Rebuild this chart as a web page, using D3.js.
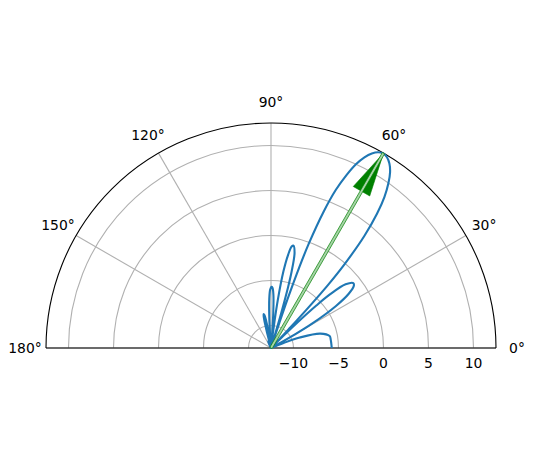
<!DOCTYPE html>
<html lang="en">
<head>
<meta charset="utf-8">
<title>Array pattern, polar</title>
<script src="https://cdn.jsdelivr.net/npm/d3@7"></script>
<style>
  body { margin: 0; background: #fff; }
  text { font-family: "DejaVu Sans", sans-serif; font-size: 13.9px; fill: #000; }
</style>
</head>
<body>
<script>

// radial limits and ticks
var rLim = [-12.5, 12.5];
var rTicks = [-10, -5, 0, 5, 10];
var thetaTicks = [0, 30, 60, 90, 120, 150, 180];

// pattern, [angle in degrees, level]
var lobe2a = [[0, -5.75], [8.1, -5.8], [11.5, -5.85], [16.3, -6.8], [20.0, -9.1], [21.6, -11.0], [22.5, -12.5]];
var lobe1a = [[28.6, -12.5], [29.0, -11.2], [29.5, -9.6], [30.7, -7.15], [32.9, -3.9], [34.9, -1.97],
              [36.9, -0.99], [38.3, -0.85], [40.5, -1.6], [42.3, -3.7], [43.1, -5.6], [43.95, -8.5],
              [44.4, -10.8], [44.6, -12.5]];
var mainLobe = [[46.4, -12.5], [46.5, -11.5], [46.8, -9.5], [47.2, -6.8], [47.9, -3.0], [48.7, -0.2],
                [50.2, 3.7], [51.7, 6.5], [53.1, 8.5], [54.55, 10.0], [55.9, 11.1], [57.3, 11.85],
                [58.7, 12.3], [60, 12.45], [61.3, 12.3], [62.6, 11.85], [63.9, 11.1], [65.2, 10.0],
                [66.4, 8.5], [67.7, 6.5], [68.9, 3.7], [70.1, -0.2], [70.7, -3.0], [71.3, -6.8],
                [71.6, -9.5], [71.9, -12.5]];
var lobe1b = [[73.3, -12.5], [73.4, -10.8], [73.7, -8.5], [74.3, -5.6], [74.9, -3.7], [76.1, -1.6],
              [77.6, -0.85], [78.5, -0.99], [79.6, -1.97], [80.8, -3.9], [81.95, -7.15], [82.5, -9.6],
              [82.8, -11.2], [83.0, -12.5]];
var lobe2b = [[85.2, -12.5], [85.6, -10.6], [86.3, -8.6], [87.4, -6.6], [88.6, -5.8], [89.6, -5.7],
              [90.8, -6.0], [92.0, -7.0], [93.1, -8.9], [93.8, -10.8], [94.3, -12.5]];
var lobe3b = [[98.0, -12.5], [98.2, -12.0], [99.0, -10.6], [100.0, -9.5], [101.2, -8.8], [102.4, -8.65],
              [103.4, -9.2], [104.3, -10.5], [104.8, -11.8], [105.1, -12.5]];
var lobe4b = [[111.5, -12.5], [112.5, -11.9], [113.6, -11.7], [114.8, -11.95],
              [115.8, -12.5], [180, -12.5]];

// arrow toward the main beam
var beamAngle = 60;

var w = 533, h = 470;
var cx = 271, cy = 348, R = 225;

var svg = d3.select("body").append("svg")
  .attr("width", w).attr("height", h);

var r = d3.scaleLinear().domain(rLim).range([0, R]).clamp(true);
var rad = function(deg) { return deg * Math.PI / 180; };

var g = svg.append("g").attr("transform", "translate(" + cx + "," + cy + ")");

//grid circles
g.selectAll(".rgrid")
  .data(rTicks)
  .enter().append("path")
  .attr("d", function(d) { return d3.arc()({startAngle: -Math.PI / 2, endAngle: Math.PI / 2, innerRadius: r(d), outerRadius: r(d)}); })
  .attr("fill", "none")
  .attr("stroke", "#b0b0b0")
  .attr("stroke-width", 1.1);

//grid spokes
g.selectAll(".tgrid")
  .data(thetaTicks)
  .enter().append("line")
  .attr("x1", 0).attr("y1", 0)
  .attr("x2", function(d) { return R * Math.cos(rad(d)); })
  .attr("y2", function(d) { return -R * Math.sin(rad(d)); })
  .attr("stroke", "#b0b0b0")
  .attr("stroke-width", 1.1);

//spines
g.append("path")
  .attr("d", d3.arc()({startAngle: -Math.PI / 2, endAngle: Math.PI / 2, innerRadius: R, outerRadius: R}))
  .attr("fill", "none").attr("stroke", "#000").attr("stroke-width", 1.1);
g.append("line")
  .attr("x1", -R).attr("x2", R).attr("y1", 0).attr("y2", 0)
  .attr("stroke", "#000").attr("stroke-width", 1.1);

//pattern
var pattern = [].concat(lobe2a, lobe1a, mainLobe, lobe1b, lobe2b, lobe3b, lobe4b);
var line = d3.lineRadial()
  .angle(function(d) { return Math.PI / 2 - rad(d[0]); })
  .radius(function(d) { return r(d[1]); })
  .curve(d3.curveCatmullRom.alpha(0.5));
g.append("path")
  .datum(pattern)
  .attr("d", line)
  .attr("fill", "none")
  .attr("stroke", "#1f77b4")
  .attr("stroke-width", 2.1)
  .attr("stroke-linejoin", "round");

//arrow
var ux = Math.cos(rad(beamAngle)), uy = -Math.sin(rad(beamAngle));
var tip = [r(rLim[1]) * ux, r(rLim[1]) * uy];
var headLen = 44, headW = 9.5, shaftW = 1.3;
var px = -uy, py = ux;
var base = [tip[0] - headLen * ux, tip[1] - headLen * uy];
g.append("path")
  .attr("d", "M" + tip + "L" + [base[0] + headW * px, base[1] + headW * py] +
             "L" + [base[0] - headW * px, base[1] - headW * py] + "Z")
  .attr("fill", "#008000").attr("stroke", "#008000").attr("stroke-width", 0.6);
g.append("path")
  .attr("d", "M" + [shaftW * px, shaftW * py] + "L" + [tip[0] + shaftW * px, tip[1] + shaftW * py] +
             "L" + [tip[0] - shaftW * px, tip[1] - shaftW * py] + "L" + [-shaftW * px, -shaftW * py] + "Z")
  .attr("fill", "#a8d4a8").attr("stroke", "#008000").attr("stroke-width", 0.7);

//theta labels
g.selectAll(".tlab")
  .data(thetaTicks)
  .enter().append("text")
  .attr("x", function(d) { return 246 * Math.cos(rad(d)); })
  .attr("y", function(d) { return -246 * Math.sin(rad(d)); })
  .attr("dy", "0.36em")
  .attr("text-anchor", "middle")
  .text(function(d) { return d + "°"; });

//radial labels
g.selectAll(".rlab")
  .data(rTicks)
  .enter().append("text")
  .attr("x", function(d) { return r(d); })
  .attr("y", 20)
  .attr("text-anchor", "middle")
  .text(function(d) { return d3.format("d")(d).replace("-", "\u2212"); });

</script>
</body>
</html>
